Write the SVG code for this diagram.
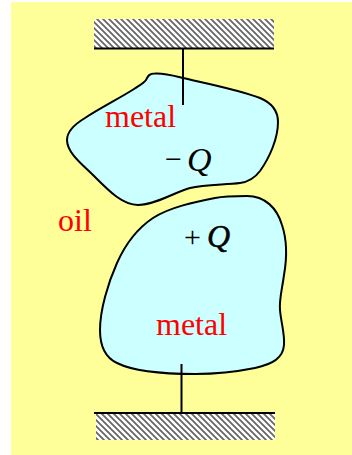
<svg xmlns="http://www.w3.org/2000/svg" width="352" height="455" viewBox="0 0 352 455">
<style>
.lbl{font-family:"Liberation Serif","Times New Roman",serif;font-size:32px;fill:#ff0000}
.q{font-family:"Liberation Serif","Times New Roman",serif;font-size:34px;font-style:italic;fill:#000}
.sym{font-family:"Liberation Serif","Times New Roman",serif;font-size:30px;fill:#000}
.blob{fill:#ccffff;stroke:#000;stroke-width:2}
.ln{stroke:#000;stroke-width:2;fill:none}
</style>
<defs>
<pattern id="h" width="6" height="6" patternUnits="userSpaceOnUse">
<rect width="6" height="6" fill="#fff"/>
<path d="M-1.500 -1.500L7.500 7.500M-4.500 1.500L1.500 7.500M1.500 -4.500L7.500 1.500" stroke="#666" stroke-width="1.800"/>
</pattern>
</defs>
<rect x="11" y="2" width="341" height="453" fill="#ffff99"/>
<g id="top-plate"><rect x="94" y="19" width="180" height="29" fill="url(#h)"/></g>
<g id="bottom-plate"><rect x="96" y="414" width="179" height="26" fill="url(#h)"/></g>
<g id="top-metal"><path class="blob" d="M146 80C148 76 149 73.500 155 73.500C165 73 175 76 183 78C207 83.500 240 90 260 98C272 103 278 111 278 122C278 138 270 157 260 171C254 179 248 182 240 183C225 185 205 184 190 188C175 192 155 205 138 205C122 205 108 190 93 175C83 165 67 153 67 140C67 131 75 124 85 118C100 108 120 98 134 89C140 85 144 83 146 80Z"/></g>
<g id="bottom-metal"><path class="blob" d="M247 196C265 196 277 208 282 225C287 240 287 258 284 275C282 290 279 300 280 310C281 322 285 335 284 345C283 358 273 364 255 368C235 372 215 374 195 374C165 374 135 372 117 363C104 357 100 345 100 330C100 310 108 283 117 263C125 245 135 230 153 218C170 207 195 202 215 198C225 196 237 196 247 196Z"/></g>
<g id="connectors">
<path class="ln" d="M94 48.500H274"/>
<path class="ln" d="M183 48V105"/>
<path class="ln" d="M94 413H275"/>
<path class="ln" d="M181.500 364V413"/>
</g>
<g id="labels">
<text class="lbl" x="105" y="127">metal</text>
<text class="lbl" x="156" y="335">metal</text>
<text class="lbl" x="58" y="231">oil</text>
<text class="sym" x="165" y="169">−</text>
<text class="q" x="187" y="171">Q</text>
<text class="sym" x="184" y="247">+</text>
<text class="q" x="207" y="247" style="font-size:32px" stroke="#000" stroke-width="0.500">Q</text>
</g>
</svg>
